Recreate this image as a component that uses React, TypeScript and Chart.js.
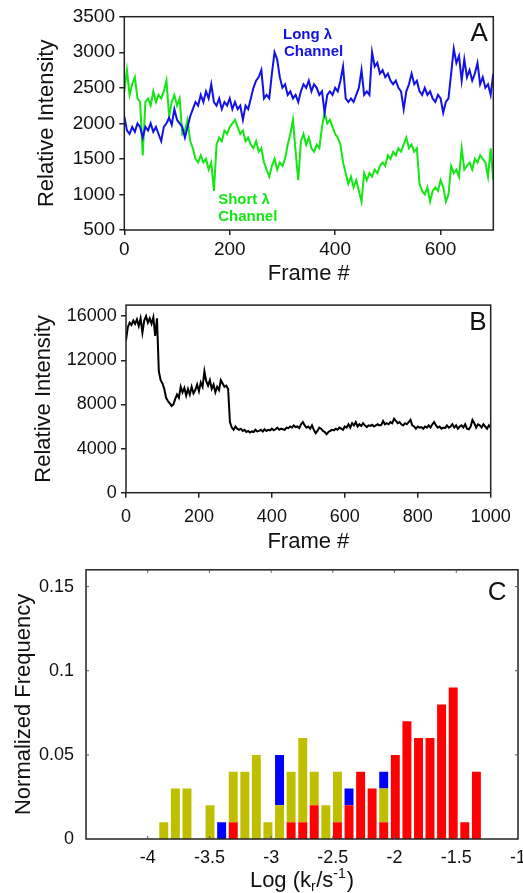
import React, { useEffect, useRef } from 'react';
import { Chart, registerables } from 'chart.js';

Chart.register(...registerables);

const FONT = "'Liberation Sans', Arial, Helvetica, sans-serif";
const BLUE = '#1212E6';
const GREEN = '#14E614';
const RED = '#FF0000';
const OLIVE = '#BFBF00';
const INK = '#111111';

// ---------- Panel A ----------
const FRAME_STEP_A = 5;
const LONG_CHANNEL = [
  2100, 1900, 1850, 1950, 1880, 2000, 1950, 1800, 1950, 1900,
  2000, 1880, 1950, 1850, 1750, 1950, 2000, 2080, 1980, 2200,
  2050, 2000, 1950, 1800, 1950, 2100, 2200, 2300, 2250, 2400,
  2300, 2450, 2350, 2550, 2300, 2250, 2350, 2200, 2300, 2250,
  2350, 2200, 2300, 2200, 2250, 2050, 2250, 2200, 2350, 2500,
  2600, 2650, 2750, 2350, 2400, 2350, 2700, 3000, 2900, 2650,
  2500, 2550, 2400, 2450, 2350, 2400, 2300, 2450, 2550, 2500,
  2600, 2450, 2550, 2500, 2400, 2450, 2150, 2400, 2450, 2400,
  2500, 2450, 2600, 2800, 2350, 2300, 2350, 2300, 2400, 2500,
  2750, 2400, 2450, 2400, 3000, 2800, 2850, 2700, 2750, 2650,
  2700, 2600, 2550, 2600, 2500, 2450, 2200, 2450, 2550, 2700,
  2550, 2600, 2450, 2400, 2500, 2400, 2450, 2350, 2300, 2400,
  2350, 2150, 2300, 2350, 2700, 3050, 2850, 2950, 2600, 2900,
  2650, 2750, 2600, 2700, 2850, 2550, 2650, 2500, 2550, 2400,
  2700,
];
const SHORT_CHANNEL = [
  2450, 2750, 2400, 2550, 2650, 2350, 2300, 1550, 2300, 2350,
  2250, 2450, 2300, 2400, 2350, 2450, 2600, 2100, 2300, 2400,
  2250, 2350, 1850, 1900, 2050, 1750, 1650, 1500, 1450, 1550,
  1450, 1500, 1350, 1450, 1050, 1700, 1800, 1750, 1900, 1850,
  1950, 2000, 2050, 1950, 1850, 1900, 1750, 1800, 1700, 1650,
  1750, 1600, 1650, 1450, 1350, 1250, 1400, 1500, 1350, 1450,
  1400, 1500, 1700, 1850, 2050, 1600, 1200, 1750, 1850, 1700,
  1800, 1650, 1600, 1700, 1650, 1950, 2150, 2000, 2050, 1950,
  1850, 1800, 1700, 1450, 1300, 1150, 1250, 1100, 1200, 1050,
  900, 1300, 1200, 1300, 1250, 1350, 1300, 1400, 1450, 1400,
  1550, 1500, 1600, 1550, 1650, 1600, 1700, 1800, 1650, 1700,
  1600, 1650, 1150, 1050, 1000, 1100, 900, 1050, 1100, 1050,
  1200, 1100, 900, 1000, 1400, 1300, 1350, 1250, 1650, 1350,
  1400, 1450, 1350, 1500, 1450, 1550, 1500, 1450, 1250, 1650,
  1200,
];
const A_X_TICKS = [0, 200, 400, 600];
const A_Y_TICKS = [500, 1000, 1500, 2000, 2500, 3000, 3500];

// ---------- Panel B ----------
const FRAME_STEP_B = 5;
const TOTAL_INTENSITY = [
  13800, 15000, 15400, 15200, 15600, 15300, 15700, 15100, 15800, 14500,
  15600, 16000, 15400, 15800, 15300, 15900, 14200, 15800, 11000, 10200,
  9900, 9400, 8600, 8300, 8100, 7850, 8000, 8500, 8900, 8600,
  9600, 9100, 9500, 8800, 9400, 8900, 9600, 9000, 9300, 9800,
  9200, 10000, 9600, 11000, 10100, 9700, 10200, 9400, 9800, 9100,
  9600, 9300, 10200, 9900, 9600, 9700, 9400, 6400, 5900, 5700,
  6000, 5800, 5700, 5800, 5600, 5700, 5500, 5600, 5450, 5550,
  5500, 5700, 5550, 5600, 5700, 5550, 5750, 5600, 5700, 5650,
  5800, 5650, 5750, 5900, 5700, 5800, 5750, 5700, 5900, 5850,
  6000, 5900, 6100, 5950, 6000, 5850, 6200, 6400, 6100, 5900,
  6000, 5800, 6100, 5700, 5400, 5600, 5900, 5800, 5600, 5500,
  5300, 5500, 5600, 5700, 5650, 5800, 5700, 5900, 5800, 5700,
  6000, 5900, 6200, 5900, 6300, 6100, 6400, 6000, 6200, 6050,
  6300, 6100, 5950, 6100, 6050, 6150, 6000, 6100, 6200, 6100,
  6150, 6500, 6200, 6300, 6200, 6400, 6300, 6700, 6500, 6300,
  6400, 6200, 6100, 6300, 6200, 6400, 6600, 6100, 6000, 5800,
  6000, 5900, 5950, 5800, 6000, 5900, 6100, 5900, 6200, 6400,
  6100, 5900, 6000, 5800, 5900, 5850, 6100, 5900, 6000, 6200,
  5900, 6100, 5800, 6000, 6100, 5900, 6200, 5800, 5750, 6000,
  6600, 6300, 5900, 6200, 6100, 5900, 6200, 6000, 5800, 6100,
  5900,
];
const B_X_TICKS = [0, 200, 400, 600, 800, 1000];
const B_Y_TICKS = [0, 4000, 8000, 12000, 16000];

// ---------- Panel C ----------
const BIN_CENTERS = [
  -3.870, -3.776, -3.682, -3.589, -3.495, -3.401, -3.307, -3.213, -3.120, -3.026,
  -2.932, -2.838, -2.744, -2.651, -2.557, -2.463, -2.369, -2.275, -2.182, -2.088,
  -1.994, -1.900, -1.806, -1.713, -1.619, -1.525, -1.431, -1.337,
];
const RED_FREQ = [
  0, 0, 0, 0, 0, 0, 0.01, 0, 0, 0,
  0, 0.01, 0.01, 0.02, 0, 0.01, 0.02, 0.04, 0.03, 0.01,
  0.05, 0.07, 0.06, 0.06, 0.08, 0.09, 0.01, 0.04,
];
const OLIVE_FREQ = [
  0.01, 0.03, 0.03, 0, 0.02, 0, 0.03, 0.04, 0.05, 0.01,
  0.02, 0.03, 0.05, 0.02, 0.02, 0.03, 0, 0, 0, 0.02,
  0, 0, 0, 0, 0, 0, 0, 0,
];
const BLUE_FREQ = [
  0, 0, 0, 0, 0, 0.01, 0, 0, 0, 0,
  0.03, 0, 0, 0, 0, 0, 0.01, 0, 0, 0.01,
  0, 0, 0, 0, 0, 0, 0, 0,
];
const C_X_TICKS = [-4, -3.5, -3, -2.5, -2, -1.5, -1];
const C_Y_TICKS = [0, 0.05, 0.1, 0.15];

// ---------- helpers ----------
const setTicks = (values: number[]) => (scale: any) => {
  scale.ticks = values.map((v) => ({ value: v }));
};

const framePlugin = {
  id: 'frameBox',
  afterDatasetsDraw(chart: any) {
    const { ctx, chartArea } = chart;
    const { left, top, right, bottom } = chartArea;
    ctx.save();
    ctx.strokeStyle = '#222';
    ctx.lineWidth = 1.5;
    ctx.strokeRect(left, top, right - left, bottom - top);
    ctx.restore();
  },
};

function letterPlugin(letter: string, xv: number, yv: number) {
  return {
    id: 'panelLetter' + letter,
    afterDraw(chart: any) {
      const { ctx, scales } = chart;
      ctx.save();
      ctx.font = `26px ${FONT}`;
      ctx.fillStyle = INK;
      ctx.textAlign = 'center';
      ctx.textBaseline = 'middle';
      ctx.fillText(letter, scales.x.getPixelForValue(xv), scales.y.getPixelForValue(yv));
      ctx.restore();
    },
  };
}

function lineScales(opts: {
  xMin: number; xMax: number; yMin: number; yMax: number;
  xTicks: number[]; yTicks: number[];
  yWidth: number; xHeight: number; tickSize: number;
  xPad: number; yPad: number; yTitlePad: number; xTitlePad: number;
}) {
  const grid = {
    display: true,
    drawOnChartArea: false,
    drawTicks: true,
    tickLength: 5,
    color: '#222',
    lineWidth: 1.5,
  };
  const tickFont = { family: FONT, size: opts.tickSize };
  const titleFont = { family: FONT, size: 22 };
  return {
    x: {
      type: 'linear',
      min: opts.xMin,
      max: opts.xMax,
      afterBuildTicks: setTicks(opts.xTicks),
      afterFit: (s: any) => { s.height = opts.xHeight; },
      grid,
      border: { display: false },
      ticks: { font: tickFont, color: INK, padding: opts.xPad, maxRotation: 0, autoSkip: false, callback: (v: any) => String(v) },
      title: { display: true, text: 'Frame #', font: titleFont, color: INK, padding: { top: 0, bottom: opts.xTitlePad } },
    },
    y: {
      type: 'linear',
      min: opts.yMin,
      max: opts.yMax,
      afterBuildTicks: setTicks(opts.yTicks),
      afterFit: (s: any) => { s.width = opts.yWidth; },
      grid,
      border: { display: false },
      ticks: { font: tickFont, color: INK, padding: opts.yPad, autoSkip: false, callback: (v: any) => String(v) },
      title: { display: true, text: 'Relative Intensity', font: titleFont, color: INK, padding: { top: opts.yTitlePad, bottom: 0 } },
    },
  };
}

function makeA(canvas: HTMLCanvasElement) {
  const annot = {
    id: 'annotA',
    afterDatasetsDraw(chart: any) {
      const { ctx, scales: { x, y } } = chart;
      ctx.save();
      ctx.font = `bold 15px ${FONT}`;
      ctx.textAlign = 'left';
      ctx.textBaseline = 'middle';
      ctx.fillStyle = BLUE;
      ctx.fillText('Long λ', x.getPixelForValue(301), y.getPixelForValue(3243));
      ctx.fillText('Channel', x.getPixelForValue(303), y.getPixelForValue(3004));
      ctx.fillStyle = GREEN;
      ctx.fillText('Short λ', x.getPixelForValue(178), y.getPixelForValue(923));
      ctx.fillText('Channel', x.getPixelForValue(178), y.getPixelForValue(684));
      ctx.restore();
    },
  };
  return new Chart(canvas, {
    type: 'line',
    data: {
      datasets: [
        {
          label: 'Long λ Channel',
          data: LONG_CHANNEL.map((v, i) => ({ x: i * FRAME_STEP_A, y: v })),
          borderColor: BLUE,
          borderWidth: 2,
          pointRadius: 0,
          tension: 0,
        },
        {
          label: 'Short λ Channel',
          data: SHORT_CHANNEL.map((v, i) => ({ x: i * FRAME_STEP_A, y: v })),
          borderColor: GREEN,
          borderWidth: 2,
          pointRadius: 0,
          tension: 0,
        },
      ],
    },
    options: {
      responsive: false,
      animation: false,
      devicePixelRatio: 1,
      layout: { padding: { top: 16.7, right: 29.7, left: 0, bottom: 0 } },
      plugins: { legend: { display: false }, tooltip: { enabled: false } },
      scales: lineScales({
        xMin: 0, xMax: 700, yMin: 500, yMax: 3500,
        xTicks: A_X_TICKS, yTicks: A_Y_TICKS,
        yWidth: 124.3, xHeight: 60, tickSize: 19,
        xPad: 3, yPad: 4.3, yTitlePad: 33.8, xTitlePad: 3,
      }) as any,
    },
    plugins: [framePlugin, annot, letterPlugin('A', 673, 3257)],
  } as any);
}

function makeB(canvas: HTMLCanvasElement) {
  return new Chart(canvas, {
    type: 'line',
    data: {
      datasets: [
        {
          label: 'Intensity',
          data: TOTAL_INTENSITY.map((v, i) => ({ x: i * FRAME_STEP_B, y: v })),
          borderColor: '#000',
          borderWidth: 2,
          pointRadius: 0,
          tension: 0,
        },
      ],
    },
    options: {
      responsive: false,
      animation: false,
      devicePixelRatio: 1,
      layout: { padding: { top: 11.7, right: 32.3, left: 0, bottom: 0 } },
      plugins: { legend: { display: false }, tooltip: { enabled: false } },
      scales: lineScales({
        xMin: 0, xMax: 1000, yMin: 0, yMax: 17000,
        xTicks: B_X_TICKS, yTicks: B_Y_TICKS,
        yWidth: 126, xHeight: 62.3, tickSize: 18,
        xPad: 9, yPad: 4.3, yTitlePad: 30.8, xTitlePad: 0,
      }) as any,
    },
    plugins: [framePlugin, letterPlugin('B', 965, 15350)],
  } as any);
}

function makeC(canvas: HTMLCanvasElement) {
  const innerTicks = {
    id: 'innerTicks',
    afterDatasetsDraw(chart: any) {
      const { ctx, chartArea: { left, top, right, bottom }, scales: { x, y } } = chart;
      ctx.save();
      ctx.strokeStyle = '#555';
      ctx.lineWidth = 1;
      const L = 3;
      C_X_TICKS.forEach((v) => {
        const px = x.getPixelForValue(v);
        if (px <= left + 1 || px >= right - 1) return;
        ctx.beginPath();
        ctx.moveTo(px, bottom); ctx.lineTo(px, bottom - L);
        ctx.moveTo(px, top); ctx.lineTo(px, top + L);
        ctx.stroke();
      });
      C_Y_TICKS.forEach((v) => {
        const py = y.getPixelForValue(v);
        if (py >= bottom - 1 || py <= top + 1) return;
        ctx.beginPath();
        ctx.moveTo(left, py); ctx.lineTo(left + L, py);
        ctx.moveTo(right, py); ctx.lineTo(right - L, py);
        ctx.stroke();
      });
      ctx.restore();
    },
  };
  const xTitle = {
    id: 'xTitleC',
    afterDraw(chart: any) {
      const { ctx, chartArea: { left, right } } = chart;
      const cy = 326;
      const big = `22px ${FONT}`;
      const small = `14px ${FONT}`;
      const parts: { t: string; f: string; dy: number; gap: number }[] = [
        { t: 'Log (k', f: big, dy: 0, gap: 0 },
        { t: 'r', f: small, dy: 6, gap: 0.5 },
        { t: '/s', f: big, dy: 0, gap: 0 },
        { t: '-1', f: small, dy: -7, gap: 1 },
        { t: ')', f: big, dy: 0, gap: 0 },
      ];
      ctx.save();
      ctx.fillStyle = INK;
      ctx.textBaseline = 'middle';
      ctx.textAlign = 'left';
      let total = 0;
      parts.forEach((p) => { ctx.font = p.f; total += ctx.measureText(p.t).width + p.gap; });
      let cx = (left + right) / 2 - total / 2;
      parts.forEach((p) => {
        ctx.font = p.f;
        ctx.fillText(p.t, cx, cy + p.dy);
        cx += ctx.measureText(p.t).width + p.gap;
      });
      ctx.restore();
    },
  };
  const mk = (vals: number[], color: string, label: string) => ({
    label,
    data: vals.map((v, i) => ({ x: BIN_CENTERS[i], y: v })),
    backgroundColor: color,
    borderWidth: 0,
    barPercentage: 0.78,
    categoryPercentage: 1,
  });
  const tickFont = { family: FONT, size: 18 };
  return new Chart(canvas, {
    type: 'bar',
    data: {
      datasets: [
        mk(RED_FREQ, RED, 'red'),
        mk(OLIVE_FREQ, OLIVE, 'olive'),
        mk(BLUE_FREQ, '#0000FF', 'blue'),
      ],
    },
    options: {
      responsive: false,
      animation: false,
      devicePixelRatio: 1,
      layout: { padding: { top: 13, right: 27, left: 0, bottom: 0 } },
      plugins: { legend: { display: false }, tooltip: { enabled: false } },
      scales: {
        x: {
          type: 'linear',
          min: -4.5,
          max: -1,
          offset: false,
          stacked: true,
          afterBuildTicks: setTicks(C_X_TICKS),
          afterFit: (s: any) => { s.height = 54; },
          grid: { display: false, offset: false },
          border: { display: false },
          ticks: { font: tickFont, color: INK, padding: 0, maxRotation: 0, autoSkip: false, callback: (v: any) => String(v) },
          title: { display: false },
        },
        y: {
          type: 'linear',
          min: 0,
          max: 0.16,
          stacked: true,
          afterBuildTicks: setTicks(C_Y_TICKS),
          afterFit: (s: any) => { s.width = 86; },
          grid: { display: false },
          border: { display: false },
          ticks: { font: tickFont, color: INK, padding: 4, autoSkip: false, callback: (v: any) => String(v) },
          title: { display: true, text: 'Normalized Frequency', font: { family: FONT, size: 22 }, color: INK, padding: { top: 10.8, bottom: 0 } },
        },
      },
    },
    plugins: [framePlugin, innerTicks, xTitle, letterPlugin('C', -1.169, 0.1465)],
  } as any);
}

export default function App() {
  const aRef = useRef<HTMLCanvasElement>(null);
  const bRef = useRef<HTMLCanvasElement>(null);
  const cRef = useRef<HTMLCanvasElement>(null);

  useEffect(() => {
    const charts = [makeA(aRef.current!), makeB(bRef.current!), makeC(cRef.current!)];
    return () => charts.forEach((c) => c.destroy());
  }, []);

  return (
    <div style={{ position: 'absolute', left: 0, top: 0, width: 523, height: 893, overflow: 'hidden', background: '#fff' }}>
      <canvas ref={aRef} width={523} height={290} style={{ position: 'absolute', left: 0, top: 0, width: 523, height: 290 }} />
      <canvas ref={bRef} width={523} height={265} style={{ position: 'absolute', left: 0, top: 290, width: 523, height: 265 }} />
      <canvas ref={cRef} width={545} height={338} style={{ position: 'absolute', left: 0, top: 555, width: 545, height: 338 }} />
    </div>
  );
}
